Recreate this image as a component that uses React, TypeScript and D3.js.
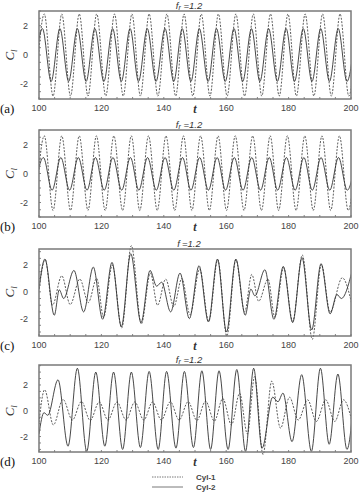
import React from "react";
import * as d3 from "d3";

// ---------- data (extrema: [t, Cl]) ----------
const xTicks = [100, 120, 140, 160, 180, 200];
const yTicks = [-2, 0, 2];
const panelLetters = ["(a)", "(b)", "(c)", "(d)"];
const seriesNames = ["Cyl-1", "Cyl-2"];

const aSolid: [number, number][] = [
  [98.3, -1.8], [101.1, 1.8], [103.9, -1.8], [106.7, 1.8], [109.5, -1.8], [112.3, 1.8],
  [115.1, -1.8], [117.9, 1.8], [120.8, -1.8], [123.6, 1.8], [126.4, -1.8], [129.2, 1.8],
  [131.9, -1.8], [134.7, 1.8], [137.5, -1.8], [140.4, 1.8], [143.2, -1.8], [145.9, 1.8],
  [148.7, -1.8], [151.4, 1.8], [154.2, -1.8], [156.9, 1.8], [159.7, -1.8], [162.5, 1.8],
  [165.3, -1.8], [168.1, 1.8], [170.8, -1.8], [173.6, 1.8], [176.4, -1.8], [179.2, 1.8],
  [181.9, -1.8], [184.7, 1.8], [187.5, -1.8], [190.3, 1.8], [193.1, -1.8], [195.9, 1.8],
  [198.7, -1.8], [201.5, 1.8],
];
const aDashed: [number, number][] = [
  [98.9, -2.8], [101.7, 2.8], [104.5, -2.8], [107.3, 2.8], [110.1, -2.8], [112.9, 2.8],
  [115.7, -2.8], [118.5, 2.8], [121.4, -2.8], [124.2, 2.8], [127.0, -2.8], [129.8, 2.8],
  [132.5, -2.8], [135.3, 2.8], [138.1, -2.8], [141.0, 2.8], [143.8, -2.8], [146.5, 2.8],
  [149.3, -2.8], [152.0, 2.8], [154.8, -2.8], [157.5, 2.8], [160.3, -2.8], [163.1, 2.8],
  [165.9, -2.8], [168.7, 2.8], [171.4, -2.8], [174.2, 2.8], [177.0, -2.8], [179.8, 2.8],
  [182.5, -2.8], [185.3, 2.8], [188.1, -2.8], [190.9, 2.8], [193.7, -2.8], [196.5, 2.8],
  [199.3, -2.8], [202.1, 2.8],
];
const bSolid: [number, number][] = [
  [98.6, -1.15], [101.4, 1.1], [104.2, -1.15], [107.0, 1.1], [109.8, -1.15], [112.6, 1.1],
  [115.4, -1.15], [118.1, 1.1], [120.9, -1.15], [123.7, 1.1], [126.5, -1.15], [129.3, 1.1],
  [132.0, -1.15], [134.8, 1.1], [137.6, -1.15], [140.4, 1.1], [143.2, -1.15], [146.0, 1.1],
  [148.7, -1.15], [151.5, 1.1], [154.3, -1.15], [157.1, 1.1], [159.8, -1.15], [162.6, 1.1],
  [165.4, -1.15], [168.2, 1.1], [171.0, -1.15], [173.8, 1.1], [176.5, -1.15], [179.3, 1.1],
  [182.1, -1.15], [184.9, 1.1], [187.6, -1.15], [190.4, 1.1], [193.2, -1.15], [196.0, 1.1],
  [198.8, -1.15], [201.6, 1.1],
];
const bDashed: [number, number][] = [
  [98.9, -2.55], [101.7, 2.6], [104.5, -2.55], [107.3, 2.6], [110.1, -2.55], [112.9, 2.6],
  [115.7, -2.55], [118.4, 2.6], [121.2, -2.55], [124.0, 2.6], [126.8, -2.55], [129.6, 2.6],
  [132.3, -2.55], [135.1, 2.6], [137.9, -2.55], [140.7, 2.6], [143.5, -2.55], [146.3, 2.6],
  [149.0, -2.55], [151.8, 2.6], [154.6, -2.55], [157.4, 2.6], [160.1, -2.55], [162.9, 2.6],
  [165.7, -2.55], [168.5, 2.6], [171.3, -2.55], [174.1, 2.6], [176.8, -2.55], [179.6, 2.6],
  [182.4, -2.55], [185.2, 2.6], [187.9, -2.55], [190.7, 2.6], [193.5, -2.55], [196.3, 2.6],
  [199.1, -2.55], [201.9, 2.6],
];
const cSolid: [number, number][] = [
  [100, 0.2], [101.9, 2.45], [104.9, -1.75], [106.5, 0.15], [107.9, -0.5], [111.2, 1.6],
  [114.3, -1.5], [117.4, 1.85], [120.4, -2.05], [123.4, 2.2], [126.4, -2.6], [129.4, 2.85],
  [132.7, -2.3], [135.6, 1.6], [137.7, 0.42], [139.3, 0.72], [142.2, -1.5], [145.2, 1.4],
  [148.2, -2.0], [151.3, 1.95], [154.3, -2.25], [157.2, 2.45], [160.1, -3.0], [163.1, 2.45],
  [166.1, -1.75], [167.9, 0.2], [169.2, -0.3], [172.4, 1.65], [175.3, -2.05], [178.3, 1.9],
  [181.3, -2.3], [184.3, 2.55], [187.4, -2.85], [190.4, 2.1], [193.3, -1.65], [195.5, -0.2],
  [196.9, -0.5], [200.3, 1.5],
];
const cDashed: [number, number][] = [
  [100, 0.2], [102.0, 2.4], [104.3, -1.0], [107.3, 1.2], [110.0, -0.95], [113.1, 0.95],
  [115.8, -0.8], [118.5, 1.0], [120.7, -1.9], [123.5, 2.0], [126.5, -2.7], [129.6, 3.45],
  [132.8, -2.4], [135.7, 1.4], [138.0, -1.0], [140.6, 0.95], [143.2, -1.1], [145.8, 1.0],
  [148.4, -1.7], [151.5, 1.7], [154.4, -2.2], [157.3, 2.4], [160.2, -3.3], [163.1, 2.4],
  [165.9, -1.5], [168.2, 1.3], [170.4, -0.7], [173.4, 0.95], [175.6, -1.9], [178.4, 1.8],
  [181.3, -2.2], [184.4, 2.75], [187.6, -3.55], [190.5, 2.05], [193.3, -1.5], [197.2, 1.05],
  [200.2, -0.85],
];
const dSolid: [number, number][] = [
  [100, -1.8], [101.6, -0.15], [102.8, -0.35], [106.1, 2.4], [109.3, -2.75], [112.3, 3.3],
  [115.3, -3.15], [118.2, 3.0], [121.1, -2.75], [123.9, 3.0], [126.8, -3.0], [129.6, 3.0],
  [132.5, -2.85], [135.3, 3.05], [138.2, -3.0], [140.9, 3.05], [143.9, -2.9], [146.6, 3.05],
  [149.5, -2.85], [152.2, 3.1], [155.0, -3.0], [157.7, 3.1], [160.6, -3.0], [163.4, 3.2],
  [166.2, -3.15], [168.8, 3.3], [171.5, -2.9], [174.9, 1.05], [176.6, 0.7], [178.2, 1.37],
  [181.1, -2.4], [184.2, 2.8], [187.3, -3.15], [190.2, 3.3], [193.0, -2.6], [195.8, 2.85],
  [198.7, -3.0], [201.5, 3.0],
];
const dDashed: [number, number][] = [
  [100, -0.9], [101.8, 1.63], [104.6, -1.1], [107.7, 0.88], [110.7, -0.72], [113.6, 0.72],
  [116.4, -0.75], [119.3, 0.68], [122.1, -0.72], [125.0, 0.68], [127.9, -0.72], [130.7, 0.68],
  [133.6, -0.72], [136.4, 0.68], [139.2, -0.72], [142.1, 0.7], [144.9, -0.72], [147.8, 0.7],
  [150.6, -0.75], [153.4, 0.75], [156.2, -0.8], [158.9, 0.95], [161.7, -1.1], [164.3, 1.35],
  [166.8, -1.8], [169.1, 2.65], [171.8, -3.4], [174.6, 2.3], [177.4, -1.35], [180.3, 1.05],
  [183.1, -0.72], [186.1, 0.85], [188.9, -0.83], [191.9, 0.85], [194.8, -0.83], [197.6, 0.85],
  [200.3, -0.8],
];

// ---------- layout ----------
const W = 360;
const H = 492;
const X0 = 39;
const X1 = 351;

type Panel = {
  top: number;
  bottom: number;
  yDomain: [number, number];
  solid: [number, number][];
  dashed: [number, number][];
  sub: boolean;
};

const panels: Panel[] = [
  { top: 11, bottom: 99, yDomain: [-3, 3], solid: aSolid, dashed: aDashed, sub: true },
  { top: 130, bottom: 217, yDomain: [-3, 3], solid: bSolid, dashed: bDashed, sub: true },
  { top: 249, bottom: 336, yDomain: [-3.3, 3.2], solid: cSolid, dashed: cDashed, sub: false },
  { top: 365, bottom: 452, yDomain: [-3.2, 3.55], solid: dSolid, dashed: dDashed, sub: true },
];

const sans = "'Liberation Sans', Arial, sans-serif";
const serif = "'Liberation Serif', 'Times New Roman', serif";

function PanelView({ p, i }: { p: Panel; i: number }) {
  const x = d3.scaleLinear().domain([100, 200]).range([X0, X1]);
  const y = d3.scaleLinear().domain(p.yDomain).range([p.bottom, p.top]);
  const line = d3
    .line<[number, number]>()
    .x((d) => x(d[0]))
    .y((d) => y(d[1]))
    .curve(d3.curveMonotoneX);
  const clipId = `clip${i}`;
  const minorX = d3.range(100, 201, 5);
  const minorY = d3.range(Math.ceil(p.yDomain[0] * 2) / 2, p.yDomain[1] + 0.001, 0.5);
  const cx = (X0 + X1) / 2 - 6;
  return (
    <g>
      <defs>
        <clipPath id={clipId}>
          <rect x={X0} y={p.top - 20} width={X1 - X0} height={p.bottom - p.top + 40} />
        </clipPath>
      </defs>
      {/* title */}
      <text x={cx} y={p.top - 2.5} textAnchor="middle" fontFamily={sans} fontStyle="italic" fontSize={9.5} fill="#333">
        <tspan>f</tspan>
        <tspan dy={1.5} fontSize={7}>{p.sub ? "r" : " "}</tspan>
        <tspan dy={-1.5}>{" =1.2"}</tspan>
      </text>
      {/* curves */}
      <g clipPath={`url(#${clipId})`}>
        <path d={line(p.dashed) || ""} fill="none" stroke="#4a4a4a" strokeWidth={0.9} strokeDasharray="2,1.4" />
        <path d={line(p.solid) || ""} fill="none" stroke="#333" strokeWidth={0.9} />
      </g>
      {/* minor ticks */}
      {minorX.map((t) => (
        <line key={"mx" + t} x1={x(t)} x2={x(t)} y1={p.bottom} y2={p.bottom - 2} stroke="#666" strokeWidth={0.8} />
      ))}
      {minorY.map((v) => (
        <line key={"my" + v} x1={X0} x2={X0 + 2} y1={y(v)} y2={y(v)} stroke="#666" strokeWidth={0.8} />
      ))}
      {/* frame */}
      <rect x={X0} y={p.top} width={X1 - X0} height={p.bottom - p.top} fill="none" stroke="#7a7a7a" strokeWidth={1.5} />
      {/* tick labels */}
      {xTicks.map((t) => (
        <text key={"xt" + t} x={x(t)} y={p.bottom + 12} textAnchor="middle" fontFamily={sans} fontSize={9} fill="#444">
          {t}
        </text>
      ))}
      {yTicks.map((v) => (
        <text key={"yt" + v} x={28} y={y(v) + 3} textAnchor="end" fontFamily={sans} fontSize={9} fill="#444">
          {v}
        </text>
      ))}
      {/* axis labels */}
      <text x={195} y={p.bottom + 14} textAnchor="middle" fontFamily={serif} fontStyle="italic" fontWeight="bold" fontSize={12} fill="#333">
        t
      </text>
      <text
        transform={`translate(14, ${y(0)}) rotate(-90)`}
        textAnchor="middle"
        fontFamily={serif}
        fontStyle="italic"
        fontSize={13}
        fill="#333"
      >
        <tspan>C</tspan>
        <tspan dy={3} fontSize={9}>l</tspan>
      </text>
      <text x={0} y={p.bottom + 14} fontFamily={serif} fontSize={13} fill="#111">
        {panelLetters[i]}
      </text>
    </g>
  );
}

export default function App() {
  return (
    <svg
      width={W}
      height={H}
      viewBox={`0 0 ${W} ${H}`}
      style={{ position: "absolute", left: 0, top: 0, background: "#fff" }}
    >
      <rect width={W} height={H} fill="#fff" />
      {panels.map((p, i) => (
        <PanelView key={i} p={p} i={i} />
      ))}
      {/* legend */}
      <line x1={152} x2={183} y1={477} y2={477} stroke="#555" strokeWidth={0.8} strokeDasharray="1.5,1" />
      <line x1={152} x2={183} y1={487} y2={487} stroke="#555" strokeWidth={0.8} />
      <text x={196} y={480} fontFamily={sans} fontSize={8} fontWeight="bold" fill="#444">
        {seriesNames[0]}
      </text>
      <text x={196} y={490} fontFamily={sans} fontSize={8} fontWeight="bold" fill="#444">
        {seriesNames[1]}
      </text>
    </svg>
  );
}
